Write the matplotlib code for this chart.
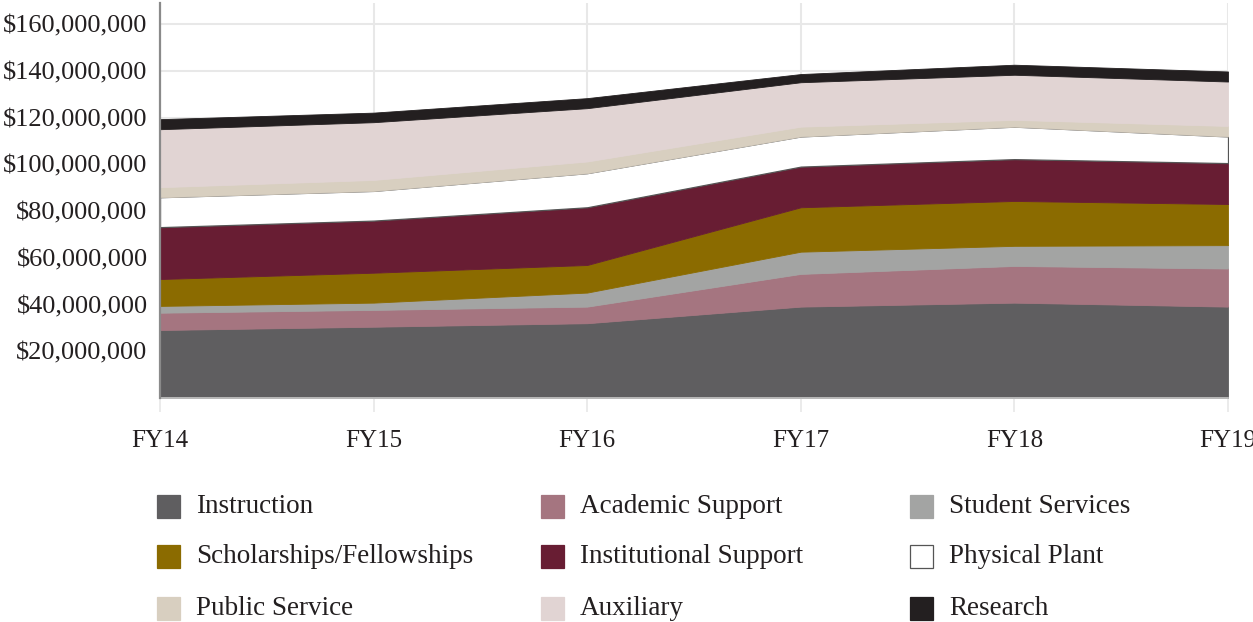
import matplotlib.pyplot as plt
from matplotlib.patches import Rectangle
from matplotlib.ticker import FuncFormatter

plt.rcParams["font.family"] = ["Liberation Serif", "DejaVu Serif"]

years = ["FY14", "FY15", "FY16", "FY17", "FY18", "FY19"]

# expenses by function, in dollars
instruction = [29.1e6, 30.5e6, 32.0e6, 39.1e6, 40.8e6, 39.1e6]
academic_support = [7.4e6, 7.2e6, 7.1e6, 14.0e6, 15.7e6, 16.3e6]
student_services = [2.9e6, 3.1e6, 6.0e6, 9.5e6, 8.6e6, 10.0e6]
scholarships = [11.5e6, 12.8e6, 11.8e6, 19.0e6, 19.2e6, 17.6e6]
institutional_support = [22.2e6, 22.3e6, 24.7e6, 17.4e6, 17.9e6, 17.5e6]
physical_plant = [12.8e6, 12.7e6, 14.6e6, 12.9e6, 13.9e6, 11.4e6]
public_service = [4.3e6, 4.7e6, 5.0e6, 4.2e6, 2.9e6, 4.5e6]
auxiliary = [24.8e6, 24.7e6, 22.8e6, 19.0e6, 19.3e6, 19.0e6]
research = [4.3e6, 4.1e6, 4.3e6, 3.5e6, 4.3e6, 4.3e6]

labels = ["Instruction", "Academic Support", "Student Services",
          "Scholarships/Fellowships", "Institutional Support", "Physical Plant",
          "Public Service", "Auxiliary", "Research"]
series = [instruction, academic_support, student_services, scholarships,
          institutional_support, physical_plant, public_service, auxiliary, research]
colors = ["#5f5e60", "#a57580", "#a3a4a3", "#8b6b00", "#681d33", "#ffffff",
          "#d8cfc0", "#e1d4d3", "#231f20"]

text_color = "#231f20"

fig = plt.figure(figsize=(12.53, 6.22), dpi=100)
ax = fig.add_axes([160 / 1253, 1 - 398 / 622, (1228 - 160) / 1253, 395 / 622])

x = list(range(len(years)))
polys = ax.stackplot(x, *series, colors=colors, labels=labels, zorder=2)
for p, c in zip(polys, colors):
    p.set_edgecolor(c)
    p.set_linewidth(0.6)
polys[5].set_edgecolor("#555555")
polys[5].set_linewidth(0.9)

ax.set_xlim(0, len(years) - 1)
ax.set_ylim(0, 169e6)
ax.set_xticks(x)
ax.set_xticklabels(years)
ax.set_yticks([20e6 * i for i in range(1, 9)])
ax.yaxis.set_major_formatter(FuncFormatter(lambda v, _: "${:,.0f}".format(v)))

ax.grid(True, color="#e8e8e8", linewidth=1.5, zorder=0)
ax.set_axisbelow(True)
ax.tick_params(axis="x", length=10, width=1.2, color="#e8e8e8", pad=13,
               labelsize=18, labelcolor=text_color)
ax.tick_params(axis="y", length=0, pad=9, labelsize=19, labelcolor=text_color)

for s in ["top", "right"]:
    ax.spines[s].set_visible(False)
ax.spines["left"].set_color("#8a8a8a")
ax.spines["left"].set_linewidth(1.6)
ax.spines["left"].set_zorder(5)
ax.spines["bottom"].set_color("#c8c8c8")
ax.spines["bottom"].set_linewidth(1.2)

# legend, three per row
col_x = [157, 541, 910]
row_y = [506, 556, 608]
for i, (lab, c) in enumerate(zip(labels, colors)):
    px = col_x[i % 3]
    py = row_y[i // 3]
    edge = "#555555" if c == "#ffffff" else c
    fig.add_artist(Rectangle((px / 1253, 1 - (py + 11.5) / 622), 23 / 1253, 23 / 622,
                             transform=fig.transFigure, facecolor=c,
                             edgecolor=edge, linewidth=0.9))
    fig.text((px + 39) / 1253, 1 - (py + 7) / 622, lab, fontsize=19.5,
             color=text_color, va="baseline", ha="left")

fig.savefig("out.png", dpi=100)
plt.close()
